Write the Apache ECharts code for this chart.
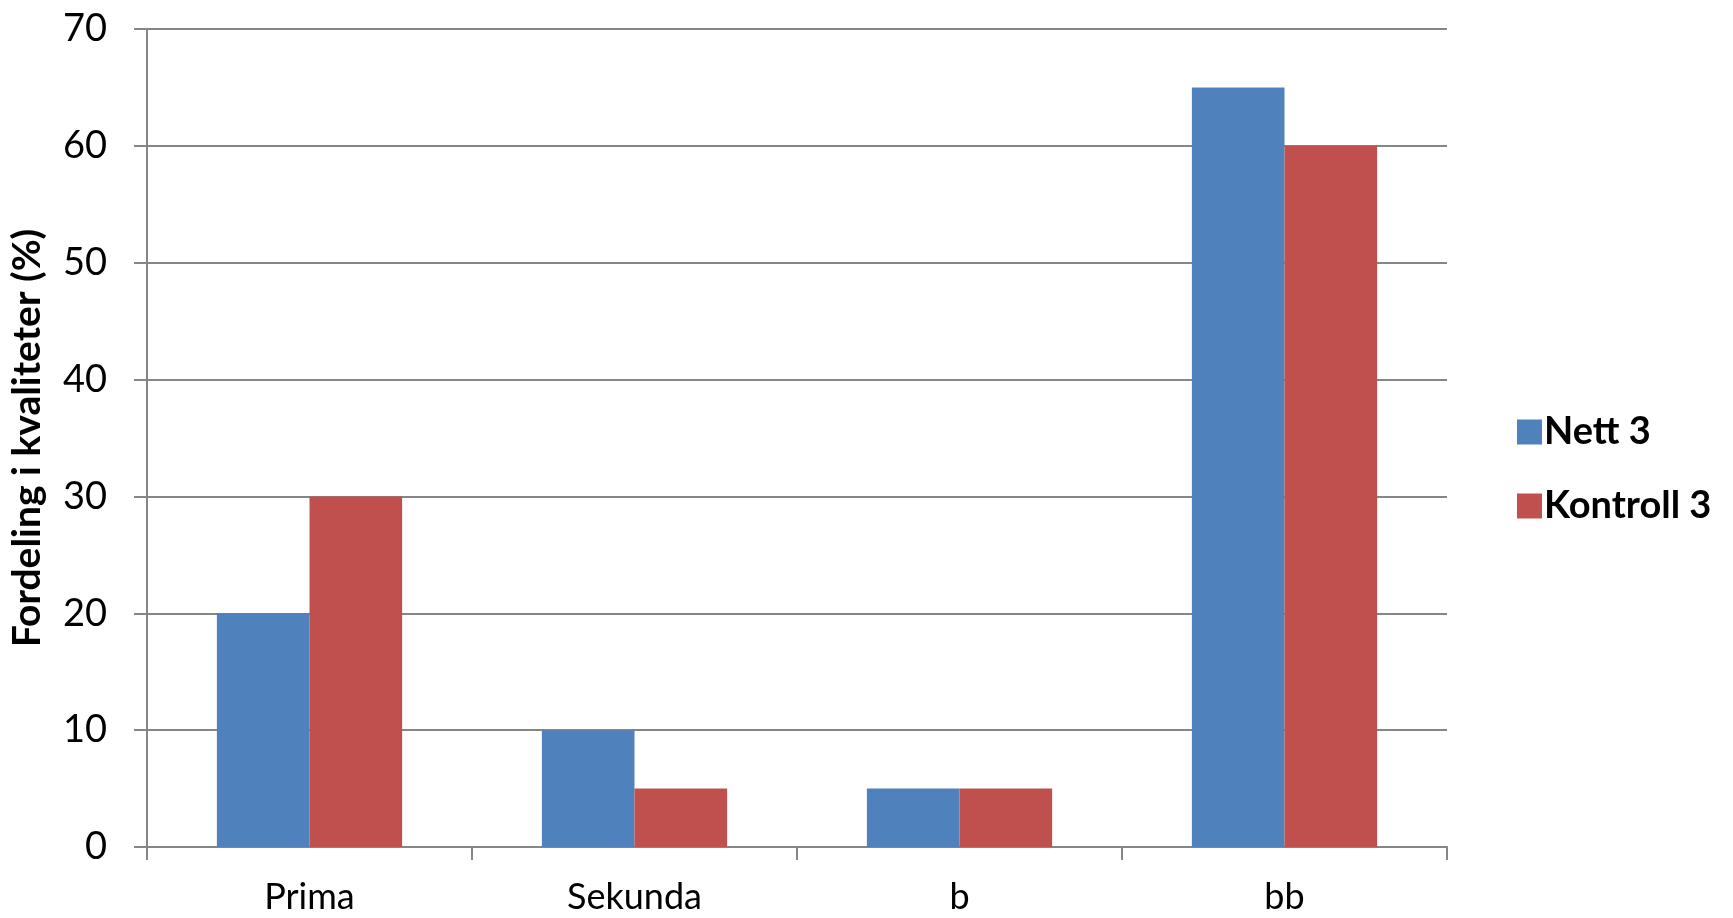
<!DOCTYPE html>
<html>
<head>
<meta charset="utf-8">
<script src="https://cdn.jsdelivr.net/npm/echarts@6/dist/echarts.min.js"></script>
<style>
html,body{margin:0;padding:0;background:#fff;}
#chart{width:1733px;height:918px;}
</style>
</head>
<body>
<div id="chart"></div>
<script>
const categories = ['Prima', 'Sekunda', 'b', 'bb'];
const nett3 = [20, 10, 5, 65];
const kontroll3 = [30, 5, 5, 60];
const seriesNames = ['Nett 3', 'Kontroll 3'];
const yAxisTitle = 'Fordeling i kvaliteter (%)';

const chart = echarts.init(document.getElementById('chart'));
const axisGray = '#868686';
const font = 'Lato, "Open Sans", sans-serif';
chart.setOption({
  backgroundColor: '#ffffff',
  animation: false,
  grid: { left: 147, right: 286, top: 29, bottom: 71, containLabel: false },
  legend: {
    orient: 'vertical',
    left: 1512,
    top: 408,
    itemWidth: 25,
    itemHeight: 25,
    itemGap: 36,
    icon: 'rect',
    textStyle: { fontFamily: font, fontSize: 38, fontWeight: 'bold', color: '#000', padding: [0, 0, 0, -3] },
    data: seriesNames
  },
  xAxis: {
    type: 'category',
    data: categories,
    axisLine: { lineStyle: { color: axisGray, width: 2 } },
    axisTick: { show: true, length: 13, lineStyle: { color: axisGray, width: 2 } },
    axisLabel: { margin: 32, fontFamily: font, fontSize: 36, color: '#000' }
  },
  yAxis: {
    type: 'value',
    min: 0,
    max: 70,
    interval: 10,
    name: yAxisTitle,
    nameLocation: 'middle',
    nameGap: 100,
    nameRotate: 90,
    nameTextStyle: { fontFamily: font, fontSize: 39, fontWeight: 'bold', color: '#000' },
    axisLine: { show: true, lineStyle: { color: axisGray, width: 2 } },
    axisTick: { show: true, length: 13, lineStyle: { color: axisGray, width: 2 } },
    axisLabel: { margin: 40, fontFamily: font, fontSize: 38, color: '#000' },
    splitLine: { show: true, lineStyle: { color: axisGray, width: 2 } }
  },
  series: [
    {
      name: seriesNames[0],
      type: 'bar',
      data: nett3,
      barGap: '0%',
      barCategoryGap: '43%',
      itemStyle: { color: '#4F81BD' }
    },
    {
      name: seriesNames[1],
      type: 'bar',
      data: kontroll3,
      barGap: '0%',
      barCategoryGap: '43%',
      itemStyle: { color: '#C0504D' }
    }
  ]
});
</script>
</body>
</html>
